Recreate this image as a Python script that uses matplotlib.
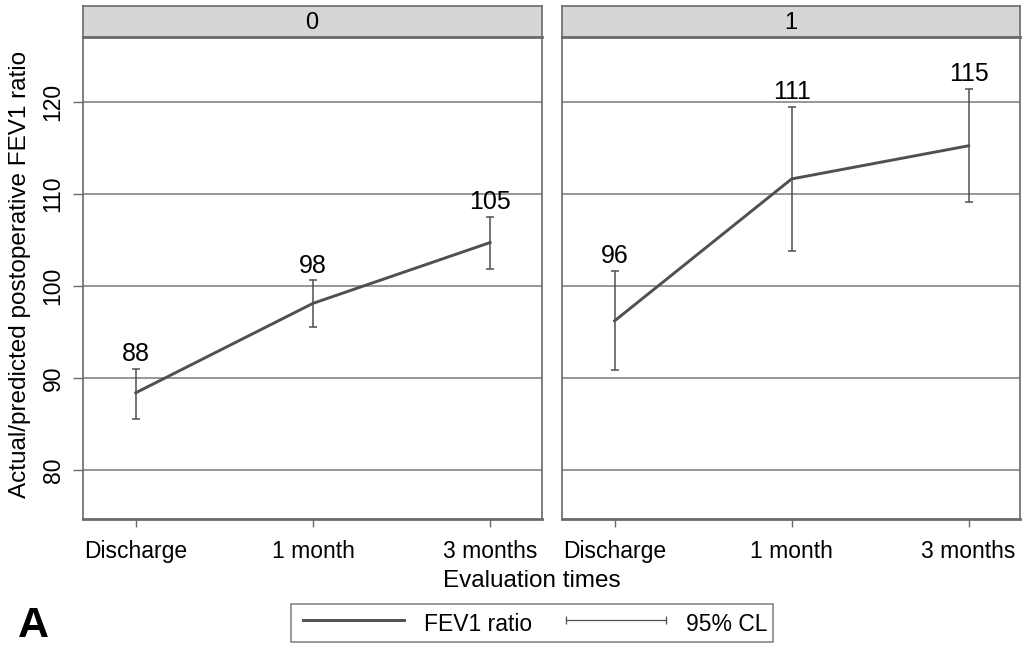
import matplotlib
matplotlib.use("Agg")
import matplotlib.pyplot as plt
from matplotlib.lines import Line2D

plt.rcParams["font.family"] = ["Liberation Sans", "DejaVu Sans"]

times = ["Discharge", "1 month", "3 months"]
groups = ["0", "1"]
means = {
    "0": [88.4, 98.1, 104.7],
    "1": [96.2, 111.6, 115.2],
}
upper = {
    "0": [91.0, 100.6, 107.5],
    "1": [101.6, 119.4, 121.4],
}
lower = {
    "0": [85.6, 95.5, 101.8],
    "1": [90.9, 103.8, 109.1],
}
labels = {
    "0": ["88", "98", "105"],
    "1": ["96", "111", "115"],
}
yticks = [80, 90, 100, 110, 120]

W, H = 1022, 647
LINE = "#505050"
GRID = "#858585"
EDGE = "#6a6a6a"


def px_rect(x0, y0, x1, y1):
    # pixel box (top-left origin) -> figure fraction rect
    return [x0 / W, 1 - y1 / H, (x1 - x0) / W, (y1 - y0) / H]


def main():
    fig = plt.figure(figsize=(W / 100, H / 100), dpi=100)
    panels = [(82.7, 541.5), (561.5, 1020)]
    for i, g in enumerate(groups):
        x0, x1 = panels[i]
        ax = fig.add_axes(px_rect(x0, 37, x1, 519))
        xs = range(len(times))
        ax.set_xlim(-0.3, 2.29)
        ax.set_ylim(74.7, 127.0)
        for y in yticks:
            ax.axhline(y, color=GRID, lw=1.2, zorder=1)
        m = means[g]
        yerr = [[a - b for a, b in zip(m, lower[g])],
                [b - a for a, b in zip(m, upper[g])]]
        ax.plot(xs, m, color=LINE, lw=2.1, zorder=3)
        ax.errorbar(xs, m, yerr=yerr, fmt="none", ecolor=LINE, elinewidth=1.1,
                    capsize=3, capthick=1.1, zorder=2)
        for x, u, lab in zip(xs, upper[g], labels[g]):
            ax.annotate(lab, (x, u), xytext=(0, 2), textcoords="offset points",
                        ha="center", va="bottom", fontsize=18)
        ax.set_xticks(list(xs))
        ax.set_xticklabels(times, fontsize=16.5)
        ax.set_yticks(yticks)
        if i == 0:
            ax.set_yticklabels([str(v) for v in yticks], fontsize=16.5,
                               rotation=90, va="center")
            ax.tick_params(axis="y", length=7, width=1.0, color=EDGE, pad=6)
        else:
            ax.tick_params(axis="y", length=0, labelleft=False)
        ax.tick_params(axis="x", length=6, width=1.0, color=EDGE, pad=9)
        for side, sp in ax.spines.items():
            sp.set_color(EDGE)
            sp.set_linewidth(1.2)
        ax.spines["bottom"].set_linewidth(2.0)

        # facet strip
        sax = fig.add_axes(px_rect(x0, 6, x1, 37))
        sax.set_facecolor("#d6d6d6")
        sax.set_xticks([])
        sax.set_yticks([])
        for sp in sax.spines.values():
            sp.set_color(EDGE)
            sp.set_linewidth(1.2)
        sax.spines["bottom"].set_linewidth(2.0)
        sax.text(0.5, 0.45, g, ha="center", va="center", fontsize=17,
                 transform=sax.transAxes)

    fig.text(20 / W, 1 - 274 / H, "Actual/predicted postoperative FEV1 ratio",
             rotation=90, ha="center", va="center", fontsize=17.5)
    fig.text(532 / W, 1 - 581 / H, "Evaluation times", ha="center",
             va="center", fontsize=17.5)
    fig.text(33 / W, 1 - 626 / H, "A", ha="center", va="center", fontsize=31,
             fontweight="bold")

    h1 = Line2D([], [], color=LINE, lw=2.1)
    h2 = Line2D([], [], color=LINE, lw=0.9, marker="|", markersize=6,
                markeredgewidth=0.9)
    leg = fig.legend([h1, h2], ["FEV1 ratio", "95% CL"], loc="center",
                     bbox_to_anchor=(532 / W, 1 - 623 / H), ncol=2,
                     fontsize=16.5, frameon=True, fancybox=False,
                     handlelength=4.98, handleheight=1.4, numpoints=2,
                     columnspacing=1.18, handletextpad=0.57, borderpad=0.26,
                     borderaxespad=0)
    leg.get_frame().set_edgecolor(EDGE)
    leg.get_frame().set_linewidth(1.2)

    fig.savefig("out.png", dpi=100)


if __name__ == "__main__":
    main()
